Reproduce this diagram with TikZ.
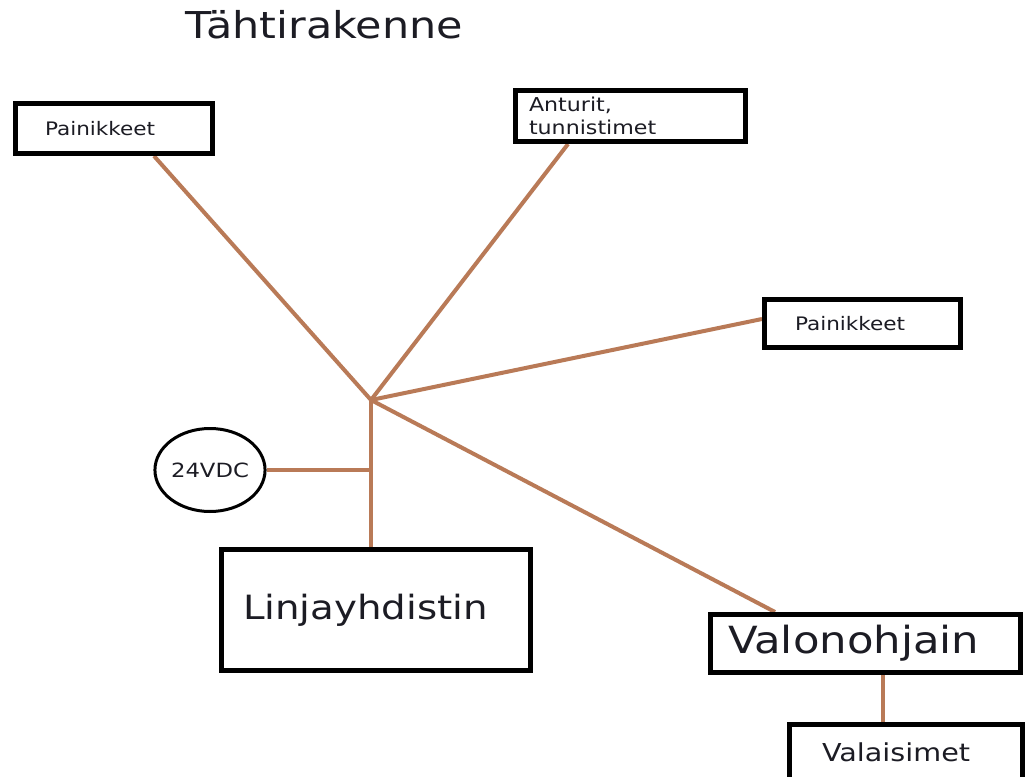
\documentclass[tikz,border=0pt]{standalone}
\usepackage{fontspec}
\setmainfont{DejaVu Sans}[FakeStretch=1.16]
\usetikzlibrary{shapes.geometric}
\definecolor{wire}{RGB}{185,122,87}
\definecolor{ink}{RGB}{28,28,36}
\pgfdeclarelayer{background}
\pgfsetlayers{background,main}
\newcommand\fsz[2]{\fontsize{#1}{#2}\selectfont}

\begin{document}
\begin{tikzpicture}[x=1pt,y=-1pt,
  box/.style={draw=black, line width=5pt, rectangle, anchor=north west,
    align=left, text=ink, inner ysep=0pt},
  psu/.style={draw=black, line width=3pt, ellipse, text=ink, inner sep=0pt,
    minimum width=110pt, minimum height=83pt},
  wirestyle/.style={draw=wire, line width=4pt},
]
\useasboundingbox (0,0) rectangle (1030,776);
\clip (0,0) rectangle (1030,776);

% title
\node[anchor=base west, inner sep=0pt, text=ink, font=\fsz{37}{42}] (title)
  at (185,39) {Tähtirakenne};

% device boxes
\node[box, minimum width=197pt, minimum height=50pt, inner xsep=29.5pt,
  text width=138pt, font=\fsz{18.6}{22}] (p1) at (13,101) {Painikkeet};
\node[box, minimum width=230pt, minimum height=51pt, inner xsep=13.5pt,
  text width=203pt, font=\fsz{19.1}{22.5}] (ant) at (513,88) {Anturit,\\tunnistimet};
\node[box, minimum width=196pt, minimum height=48pt, inner xsep=30.5pt,
  text width=135pt, font=\fsz{18.6}{22}] (p2) at (762,297) {Painikkeet};
\node[box, minimum width=309pt, minimum height=121pt, inner xsep=21.5pt,
  text width=266pt, font=\fsz{33.4}{38}] (lin) at (219,547) {Linjayhdistin};
\node[box, minimum width=310pt, minimum height=58pt, inner xsep=17.5pt,
  text width=275pt, font=\fsz{37.4}{42}] (valon) at (708,612) {Valonohjain};
\node[box, minimum width=233pt, minimum height=56pt, inner xsep=32.5pt,
  text width=168pt, font=\fsz{24.7}{28}] (vala) at (787,722) {Valaisimet};

% power supply
\node[psu, font=\fsz{19.6}{22}] (vdc) at (210,470) {24VDC};

% star point
\coordinate (hub) at (371,400);

% bus wiring, kept under the box outlines
\begin{pgfonlayer}{background}
  \fill[white] (0,0) rectangle (1030,776);
  \draw[wirestyle] (hub) -- ([xshift=40pt]p1.south);
  \draw[wirestyle] (hub) -- ([xshift=-62.5pt]ant.south);
  \draw[wirestyle] (hub) -- ([yshift=4.5pt]p2.west);
  \draw[wirestyle] (hub) -- ([xshift=-90.5pt]valon.north);
  \draw[wirestyle] (hub) -- (hub |- lin.north);
  \draw[wirestyle] (vdc.east) -- (vdc.east -| hub);
  \draw[wirestyle] ([xshift=17.5pt]valon.south) -- ([xshift=17.5pt]valon.south |- vala.north);
\end{pgfonlayer}
\end{tikzpicture}
\end{document}
